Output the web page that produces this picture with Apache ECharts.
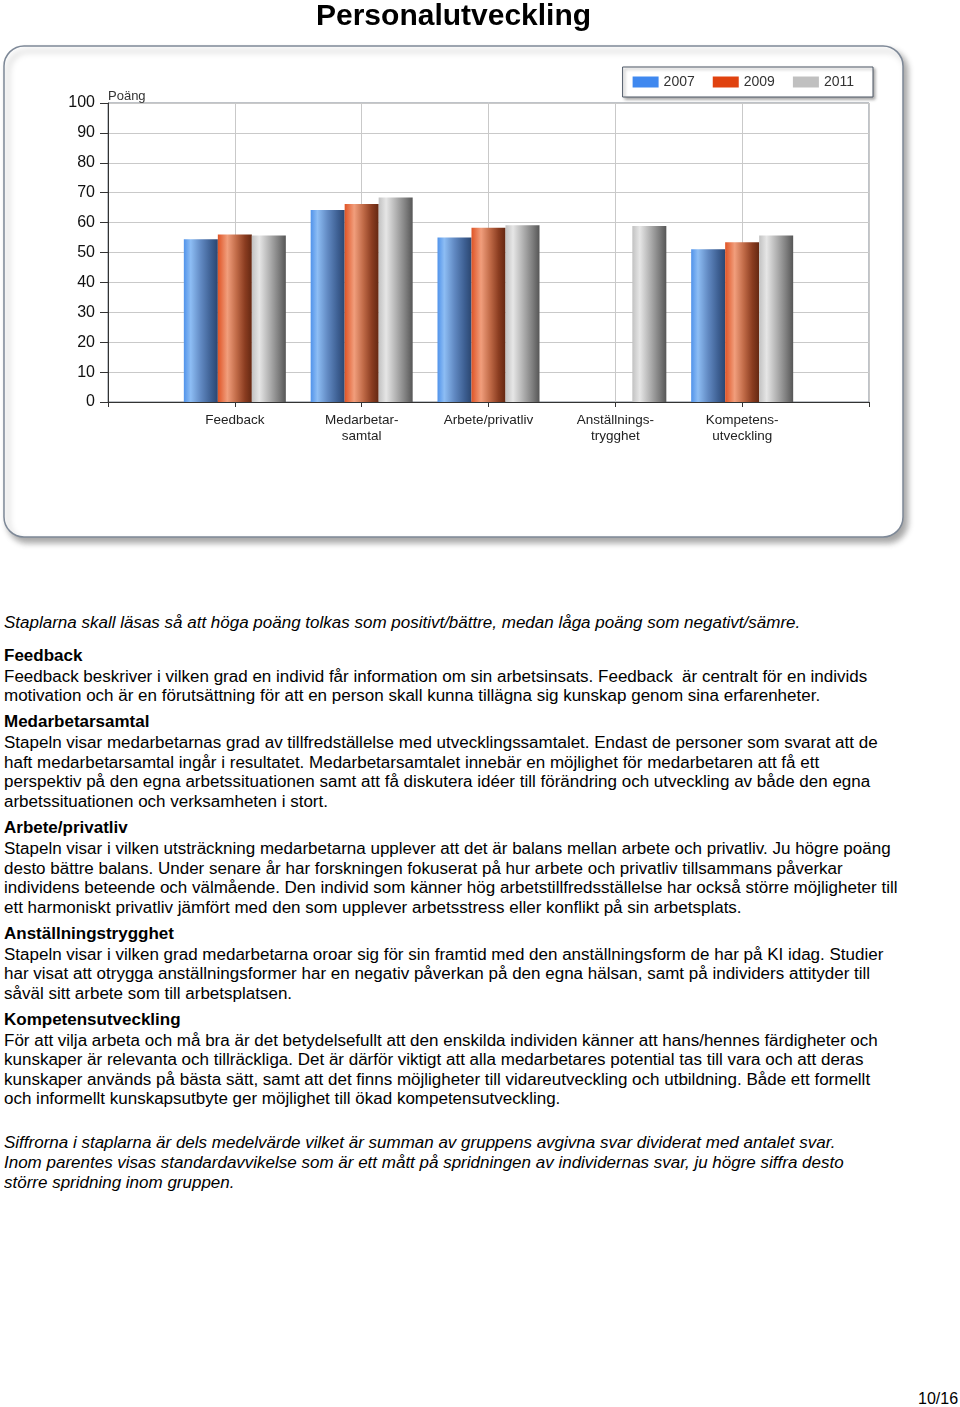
<!DOCTYPE html>
<html>
<head>
<meta charset="utf-8">
<script src="https://cdn.jsdelivr.net/npm/echarts@6/dist/echarts.min.js"></script>
<style>
  html, body { margin: 0; padding: 0; background: #fff; }
  body { width: 960px; height: 1407px; position: relative; overflow: hidden; font-family: "Liberation Sans", Arial, Helvetica, sans-serif; color: #000; }
  #chart { position: absolute; left: 0; top: 0; width: 960px; height: 560px; }
  .ln { position: absolute; left: 4px; font-size: 16px; line-height: 20px; white-space: nowrap; transform: scaleX(1.062); transform-origin: 0 0; }
  .it { font-style: italic; }
  .b { font-weight: bold; }
  #page { position: absolute; left: 918px; top: 1389px; font-size: 16px; line-height: 20px; white-space: nowrap; }
</style>
</head>
<body>
<div id="chart"></div>

<div class="ln it" style="top:613px">Staplarna skall läsas så att höga poäng tolkas som positivt/bättre, medan låga poäng som negativt/sämre.</div>
<div class="ln b" style="top:646px">Feedback</div>
<div class="ln" style="top:667px">Feedback beskriver i vilken grad en individ får information om sin arbetsinsats. Feedback&nbsp; är centralt för en individs</div>
<div class="ln" style="top:686px">motivation och är en förutsättning för att en person skall kunna tillägna sig kunskap genom sina erfarenheter.</div>
<div class="ln b" style="top:712px">Medarbetarsamtal</div>
<div class="ln" style="top:733px">Stapeln visar medarbetarnas grad av tillfredställelse med utvecklingssamtalet. Endast de personer som svarat att de</div>
<div class="ln" style="top:753px">haft medarbetarsamtal ingår i resultatet. Medarbetarsamtalet innebär en möjlighet för medarbetaren att få ett</div>
<div class="ln" style="top:772px">perspektiv på den egna arbetssituationen samt att få diskutera idéer till förändring och utveckling av både den egna</div>
<div class="ln" style="top:792px">arbetssituationen och verksamheten i stort.</div>
<div class="ln b" style="top:818px">Arbete/privatliv</div>
<div class="ln" style="top:839px">Stapeln visar i vilken utsträckning medarbetarna upplever att det är balans mellan arbete och privatliv. Ju högre poäng</div>
<div class="ln" style="top:859px">desto bättre balans. Under senare år har forskningen fokuserat på hur arbete och privatliv tillsammans påverkar</div>
<div class="ln" style="top:878px">individens beteende och välmående. Den individ som känner hög arbetstillfredsställelse har också större möjligheter till</div>
<div class="ln" style="top:898px">ett harmoniskt privatliv jämfört med den som upplever arbetsstress eller konflikt på sin arbetsplats.</div>
<div class="ln b" style="top:924px">Anställningstrygghet</div>
<div class="ln" style="top:945px">Stapeln visar i vilken grad medarbetarna oroar sig för sin framtid med den anställningsform de har på KI idag. Studier</div>
<div class="ln" style="top:964px">har visat att otrygga anställningsformer har en negativ påverkan på den egna hälsan, samt på individers attityder till</div>
<div class="ln" style="top:984px">såväl sitt arbete som till arbetsplatsen.</div>
<div class="ln b" style="top:1010px">Kompetensutveckling</div>
<div class="ln" style="top:1031px">För att vilja arbeta och må bra är det betydelsefullt att den enskilda individen känner att hans/hennes färdigheter och</div>
<div class="ln" style="top:1050px">kunskaper är relevanta och tillräckliga. Det är därför viktigt att alla medarbetares potential tas till vara och att deras</div>
<div class="ln" style="top:1070px">kunskaper används på bästa sätt, samt att det finns möjligheter till vidareutveckling och utbildning. Både ett formellt</div>
<div class="ln" style="top:1089px">och informellt kunskapsutbyte ger möjlighet till ökad kompetensutveckling.</div>
<div class="ln it" style="top:1133px">Siffrorna i staplarna är dels medelvärde vilket är summan av gruppens avgivna svar dividerat med antalet svar.</div>
<div class="ln it" style="top:1153px">Inom parentes visas standardavvikelse som är ett mått på spridningen av individernas svar, ju högre siffra desto</div>
<div class="ln it" style="top:1173px">större spridning inom gruppen.</div>
<div id="page">10/16</div>

<script>
// ---- data ----
const categories = ['Feedback', 'Medarbetar-\nsamtal', 'Arbete/privatliv', 'Anställnings-\ntrygghet', 'Kompetens-\nutveckling'];
const years = ['2007', '2009', '2011'];
const values2007 = [54.4, 64.2, 55.0, null, 51.1];
const values2009 = [56.0, 66.2, 58.3, null, 53.4];
const values2011 = [55.7, 68.4, 59.1, 58.9, 55.7];
const yTicks = [0, 10, 20, 30, 40, 50, 60, 70, 80, 90, 100];

// ---- build ----
const axisCats = [''].concat(categories, ['']);
function pad(arr) { return [null].concat(arr.map(v => v === null ? '-' : v), [null]); }

function grad(stops) {
  return new echarts.graphic.LinearGradient(0, 0, 1, 0, stops.map(c => ({ offset: c[0], color: c[1] })));
}
const fills = [
  grad([[0, '#5193ea'], [0.2, '#8dbdf4'], [0.5, '#6189c2'], [0.8, '#3d5f92'], [1, '#2b4670']]),
  grad([[0, '#df5426'], [0.28, '#f19e7c'], [0.55, '#c06a47'], [0.8, '#8a3c20'], [1, '#642812']]),
  grad([[0, '#c2c2c2'], [0.22, '#e6e6e6'], [0.5, '#b4b4b4'], [0.8, '#7d7d7d'], [1, '#565656']])
];
const flat = ['#3f88ef', '#e0420f', '#c0c0c0'];
const seriesVals = [values2007, values2009, values2011];

const chart = echarts.init(document.getElementById('chart'), null, { renderer: 'canvas' });
chart.setOption({
  animation: false,
  backgroundColor: '#fff',
  title: {
    text: 'Personalutveckling',
    left: 311,
    top: -3,
    textStyle: { fontFamily: 'Liberation Sans', fontSize: 30, fontWeight: 'bold', color: '#000' }
  },
  graphic: [{
    type: 'rect',
    z: -10,
    shape: { x: 4, y: 46, width: 899, height: 491, r: 20 },
    style: {
      fill: '#fff', stroke: '#7d8897', lineWidth: 1.5,
      shadowBlur: 6, shadowOffsetX: 4, shadowOffsetY: 5, shadowColor: 'rgba(0,0,0,0.35)'
    }
  }],
  legend: {
    right: 87, top: 67,
    padding: [8, 19, 8, 10],
    itemWidth: 26, itemHeight: 11, itemGap: 18,
    backgroundColor: '#fff', borderColor: '#4e5866', borderWidth: 1,
    shadowBlur: 3, shadowOffsetX: 2, shadowOffsetY: 2, shadowColor: 'rgba(0,0,0,0.35)',
    textStyle: { fontFamily: 'Liberation Sans', fontSize: 14, color: '#333' },
    icon: 'rect',
    data: years.map((y, i) => ({ name: y, itemStyle: { color: flat[i] } }))
  },
  grid: {
    left: 108, top: 103, width: 761, height: 299,
    show: true, borderColor: '#7e8690', borderWidth: 1, backgroundColor: 'transparent'
  },
  xAxis: {
    type: 'category',
    data: axisCats,
    boundaryGap: false,
    axisLine: { lineStyle: { color: '#333', width: 1 } },
    axisTick: { show: true, length: 5, lineStyle: { color: '#333' } },
    axisLabel: { interval: 0, margin: 10, fontFamily: 'Liberation Sans', fontSize: 13.5, lineHeight: 16, color: '#222' },
    splitLine: { show: true, lineStyle: { color: '#c9c9c9', width: 1 } }
  },
  yAxis: {
    type: 'value',
    min: yTicks[0], max: yTicks[yTicks.length - 1], interval: 10,
    name: 'Poäng',
    nameLocation: 'end',
    nameGap: 7,
    nameTextStyle: { align: 'left', verticalAlign: 'middle', fontFamily: 'Liberation Sans', fontSize: 13, color: '#333' },
    axisLine: { show: true, lineStyle: { color: '#333', width: 1 } },
    axisTick: { show: true, length: 8, lineStyle: { color: '#333' } },
    axisLabel: { margin: 13, fontFamily: 'Liberation Sans', fontSize: 16, color: '#111' },
    splitLine: { show: true, lineStyle: { color: '#c9c9c9', width: 1 } }
  },
  series: years.map((y, i) => ({
    name: y,
    type: 'bar',
    barWidth: 34,
    barGap: '0%',
    data: pad(seriesVals[i]),
    itemStyle: { color: fills[i] },
    emphasis: { disabled: true }
  }))
});
</script>
</body>
</html>
